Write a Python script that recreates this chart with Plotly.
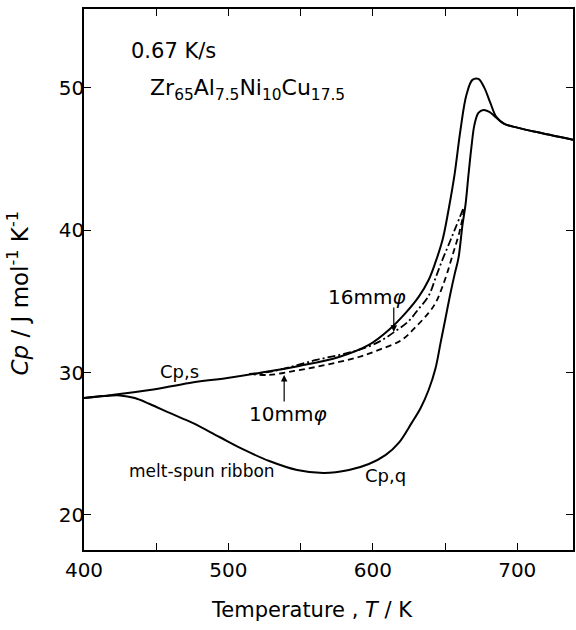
import plotly.graph_objects as go

# Heat capacity of Zr65Al7.5Ni10Cu17.5 glass on heating at 0.67 K/s
# Cp,s : relaxed glass
T_s = [400.0, 419.31, 445.52, 473.10, 499.31, 521.38, 548.97, 576.55, 597.24, 611.03,
       622.76, 631.72, 638.62, 643.45, 648.28, 652.41, 656.55, 660.69, 664.83, 668.97,
       673.10, 677.24, 681.38, 685.52, 691.03, 700.69, 712.41, 738.62]
Cp_s = [28.22, 28.43, 28.78, 29.28, 29.63, 29.98, 30.47, 31.10, 31.95, 33.00,
        34.20, 35.32, 36.51, 37.78, 39.33, 41.43, 43.89, 47.06, 49.52, 50.57,
        50.64, 50.01, 48.95, 47.97, 47.48, 47.20, 46.92, 46.36]

# Cp,q : melt-spun ribbon
T_q = [400.0, 414.48, 424.83, 435.17, 445.52, 459.31, 475.17, 493.79, 511.03, 528.28,
       547.59, 566.21, 583.45, 597.24, 608.97, 617.93, 626.90, 633.10, 638.62, 643.45,
       646.90, 650.34, 653.79, 656.55, 659.31, 662.07, 664.14, 666.21, 668.28, 670.34,
       673.10, 676.55, 680.69, 684.83, 691.03, 700.69, 712.41, 738.62]
Cp_q = [28.22, 28.36, 28.40, 28.22, 27.80, 27.17, 26.47, 25.48, 24.57, 23.79,
        23.16, 22.95, 23.16, 23.58, 24.22, 25.06, 26.47, 27.52, 28.78, 30.33,
        32.09, 33.84, 35.60, 36.87, 38.06, 40.38, 41.78, 43.89, 45.86, 47.41,
        48.25, 48.46, 48.32, 47.97, 47.48, 47.20, 46.92, 46.36]

# 16 mm diameter rod
T_16 = [514.48, 528.28, 545.52, 560.69, 576.55, 590.34, 604.14, 615.86, 624.83, 631.72,
        638.62, 643.45, 647.59, 652.41, 657.24, 662.76]
Cp_16 = [29.91, 30.05, 30.47, 30.89, 31.24, 31.60, 32.16, 32.93, 33.63, 34.48,
         35.39, 36.66, 37.78, 38.97, 40.17, 41.57]

# 10 mm diameter rod
T_10 = [514.48, 528.28, 545.52, 560.69, 576.55, 590.34, 604.14, 620.00, 629.66, 638.62,
        643.45, 647.59, 651.72, 655.86, 660.00, 663.45]
Cp_10 = [29.91, 29.84, 30.12, 30.40, 30.75, 31.10, 31.60, 32.30, 33.21, 34.20,
         34.90, 35.88, 37.08, 38.48, 39.89, 41.57]

x_ticks = [400, 450, 500, 550, 600, 650, 700]
x_ticktext = ["400", "", "500", "", "600", "", "700"]
y_ticks = [20, 30, 40, 50]

FONT = "DejaVu Sans"
INK = "black"

fig = go.Figure()


def curve(x, y, dash="solid", width=2.0):
    fig.add_trace(go.Scatter(
        x=x, y=y, mode="lines",
        line=dict(color=INK, width=width, dash=dash, shape="spline", smoothing=1.0),
        showlegend=False, hoverinfo="skip"))


curve(T_s, Cp_s)
curve(T_q, Cp_q)
curve(T_16, Cp_16, dash="8px,3px,2px,3px", width=1.8)
curve(T_10, Cp_10, dash="6px,4px", width=1.8)


def label(x, y, text, size):
    fig.add_annotation(x=x, y=y, xref="x", yref="y", text=text, showarrow=False,
                       xanchor="left", yanchor="middle",
                       font=dict(family=FONT, size=size, color=INK))


label(431.0, 52.6, "0.67 K/s", 21)
label(444.0, 49.9, "Zr<sub>65</sub>Al<sub>7.5</sub>Ni<sub>10</sub>Cu<sub>17.5</sub>", 22)
label(451.0, 30.1, "Cp,s", 18)
label(567.5, 35.3, "16mm<i>φ</i>", 20)
label(513.0, 27.1, "10mm<i>φ</i>", 20)
label(430.0, 23.1, "melt-spun ribbon", 17)
label(593.5, 22.75, "Cp,q", 18)

# arrows pointing at the rod curves
for tip_x, tip_y, tail_y in [(614.5, 32.86, 34.69), (538.6, 29.84, 27.87)]:
    fig.add_annotation(x=tip_x, y=tip_y, ax=tip_x, ay=tail_y, xref="x", yref="y",
                       axref="x", ayref="y", text="", showarrow=True,
                       arrowhead=2, arrowsize=1.1, arrowwidth=1.2, arrowcolor=INK)

# axis titles
fig.add_annotation(xref="paper", yref="paper", x=0.466, y=-0.111,
                   text="Temperature , <i>T</i> / K", showarrow=False,
                   xanchor="center", yanchor="middle",
                   font=dict(family=FONT, size=21, color=INK))
fig.add_annotation(xref="paper", yref="paper", x=-0.134, y=0.475, textangle=-90,
                   text="<i>Cp</i> / J mol<sup>-1</sup> K<sup>-1</sup>", showarrow=False,
                   xanchor="center", yanchor="middle",
                   font=dict(family=FONT, size=23, color=INK))

axis_common = dict(ticks="inside", ticklen=7, tickwidth=1.3, tickcolor=INK,
                   showline=True, linecolor=INK, linewidth=1.5, mirror="ticks",
                   showgrid=False, zeroline=False,
                   tickfont=dict(family=FONT, size=20, color=INK))

fig.update_layout(
    width=576, height=630,
    margin=dict(l=84, r=1, t=9, b=80),
    paper_bgcolor="white", plot_bgcolor="white",
    font=dict(family=FONT, size=20, color=INK),
    xaxis=dict(range=[400, 738.6], tickvals=x_ticks, ticktext=x_ticktext,
               ticklabelstandoff=1, **axis_common),
    yaxis=dict(range=[17.54, 55.55], tickvals=y_ticks, ticklabelstandoff=-6,
               **axis_common),
)

fig.write_html("out.html")
